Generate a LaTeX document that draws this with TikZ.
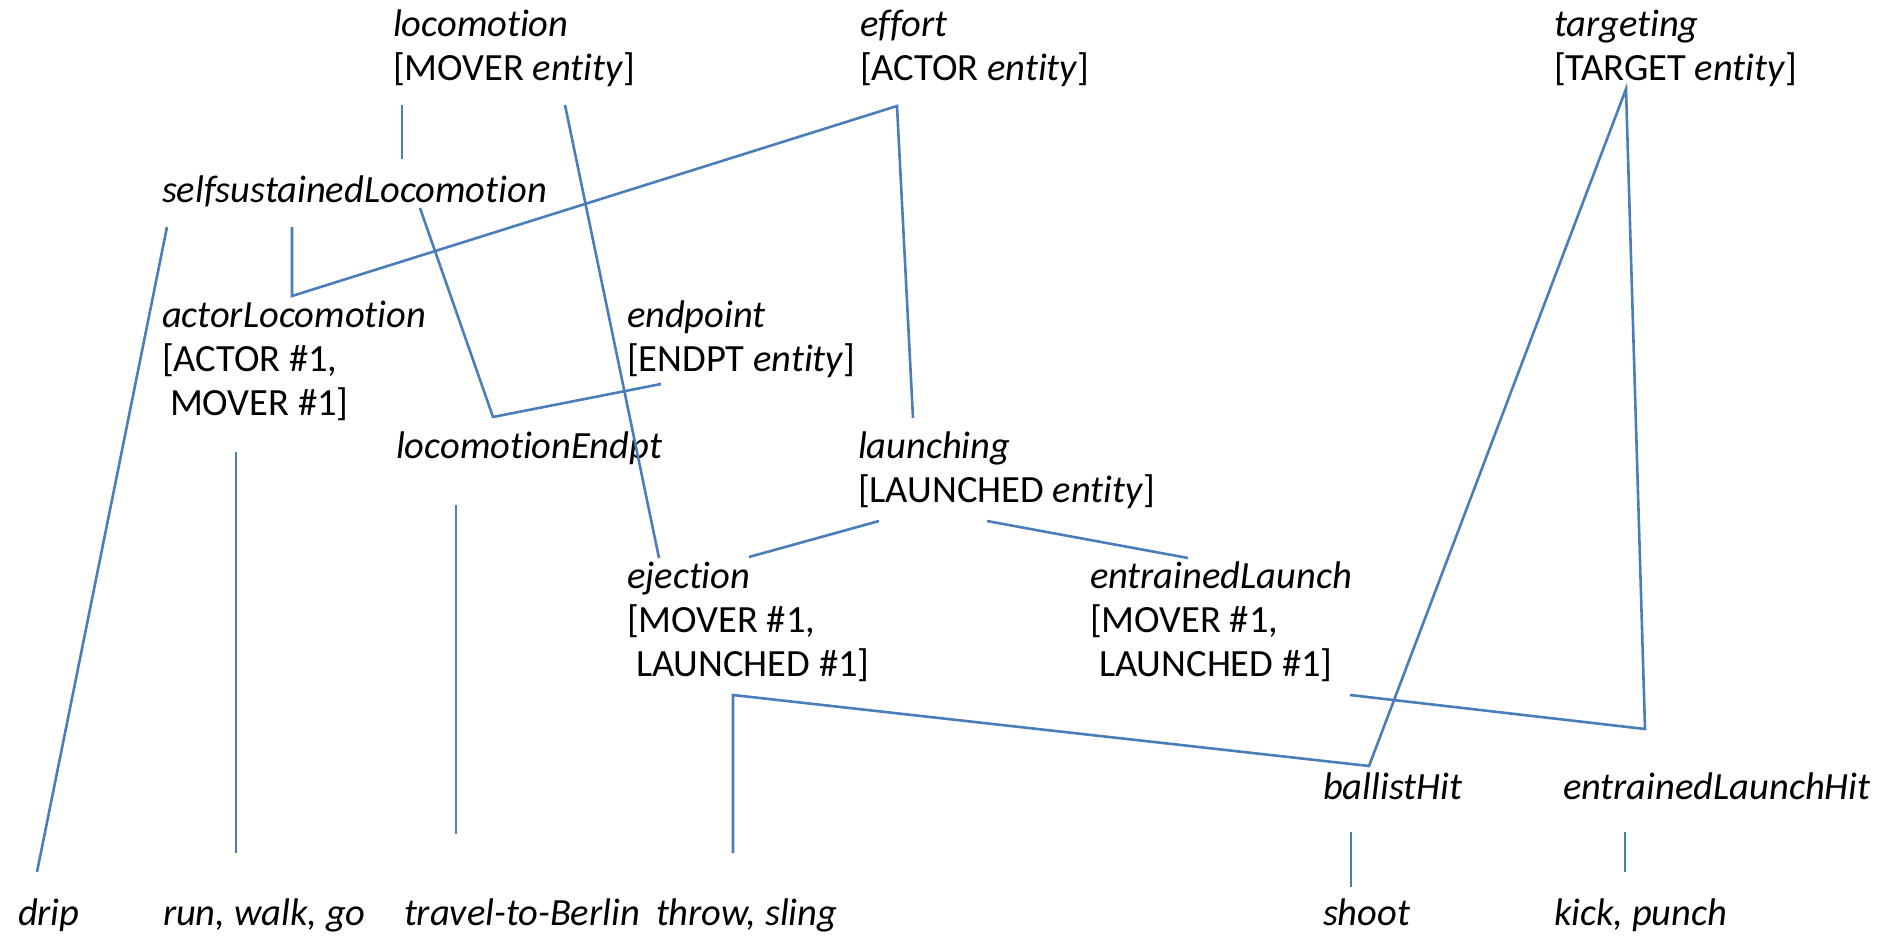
\documentclass[tikz,border=0pt]{standalone}
\usepackage{fontspec}
\setmainfont{Carlito}[Ligatures=NoCommon]
\definecolor{linkblue}{RGB}{74,126,187}
\begin{document}
\begin{tikzpicture}[x=1pt,y=-1pt,
  lbl/.style={inner sep=0pt, outer sep=0pt, anchor=base west, font=\fontsize{38.5}{46}\selectfont},
  il/.style={lbl, font=\fontsize{38.5}{46}\selectfont\itshape},
  conn/.style={draw=linkblue, line width=2.6pt, line join=miter}]
\useasboundingbox (0,0) rectangle (1883,937);
% ---- labels
\node[il]  (loco)    at (393,36)  {locomotion};
\node[lbl] (locoR)   at (393,80)  {[MOVER \textit{entity}]};
\node[il]  (effort)  at (860,36)  {effort};
\node[lbl] (effortR) at (860,80)  {[ACTOR \textit{entity}]};
\node[il]  (targ)    at (1554,36) {targeting};
\node[lbl] (targR)   at (1554,80) {[TARGET \textit{entity}]};
\node[il]  (ssl)     at (162,202) {selfsustainedLocomotion};
\node[il]  (actl)    at (162,327) {actorLocomotion};
\node[lbl] (actlA)   at (162,371) {[ACTOR \#1,};
\node[lbl] (actlB)   at (170,415) {MOVER \#1]};
\node[il]  (endp)    at (627,327) {endpoint};
\node[lbl] (endpR)   at (627,371) {[ENDPT \textit{entity}]};
\node[il]  (locoE)   at (396,458) {locomotionEndpt};
\node[il]  (launch)  at (858,458) {launching};
\node[lbl] (launchR) at (858,502) {[LAUNCHED \textit{entity}]};
\node[il]  (eject)   at (627,588) {ejection};
\node[lbl] (ejectA)  at (627,632) {[MOVER \#1,};
\node[lbl] (ejectB)  at (636,676) {LAUNCHED \#1]};
\node[il]  (entr)    at (1090,588) {entrainedLaunch};
\node[lbl] (entrA)   at (1090,632) {[MOVER \#1,};
\node[lbl] (entrB)   at (1099,676) {LAUNCHED \#1]};
\node[il]  (ballist) at (1323,799) {ballistHit};
\node[il]  (entrHit) at (1563,799) {entrainedLaunchHit};
\node[il]  (drip)    at (18,925)   {drip};
\node[il]  (run)     at (163,925)  {run, walk, go};
\node[il]  (travel)  at (404,925)  {travel-to-Berlin};
\node[il]  (throw)   at (656,925)  {throw, sling};
\node[il]  (shoot)   at (1323,925) {shoot};
\node[il]  (kick)    at (1554,925) {kick, punch};
% ---- connector end points
\coordinate (cLocoL) at (402,105);
\coordinate (cSslTop) at (402,159);
\coordinate (cLocoR) at (565,105);
\coordinate (cEjectTop) at (659,558);
\coordinate (cEffort) at (897,106);
\coordinate (cActlTop) at (292,296);
\coordinate (cSslA) at (292,227);
\coordinate (cLaunchTop) at (913,418);
\coordinate (cSslD) at (167,227);
\coordinate (cDrip) at (37,872);
\coordinate (cSslE) at (420,208);
\coordinate (cLocoETop) at (493,417);
\coordinate (cEndp) at (661,384);
\coordinate (cActlBot) at (236,452);
\coordinate (cRun) at (236,853);
\coordinate (cLocoEBot) at (456,505);
\coordinate (cTravel) at (456,834);
\coordinate (cLaunchL) at (879,521);
\coordinate (cEjectR) at (749,557);
\coordinate (cLaunchR) at (987,521);
\coordinate (cEntrTop) at (1188,558);
\coordinate (cEjectBot) at (733,695);
\coordinate (cThrow) at (733,853);
\coordinate (cBallist) at (1369,766);
\coordinate (cTarg) at (1626,89);
\coordinate (cEntrBot) at (1350,695);
\coordinate (cEntrHit) at (1645,729);
\coordinate (cBallistBot) at (1351,832);
\coordinate (cShoot) at (1351,887);
\coordinate (cEHBot) at (1625,832);
\coordinate (cKick) at (1625,872);
% ---- connectors
\draw[conn] (cLocoL) -- (cSslTop);
\draw[conn] (cLocoR) -- (cEjectTop);
\draw[conn] (cSslA) -- (cActlTop) -- (cEffort) -- (cLaunchTop);
\draw[conn] (cSslD) -- (cDrip);
\draw[conn] (cSslE) -- (cLocoETop) -- (cEndp);
\draw[conn] (cActlBot) -- (cRun);
\draw[conn] (cLocoEBot) -- (cTravel);
\draw[conn] (cLaunchL) -- (cEjectR);
\draw[conn] (cLaunchR) -- (cEntrTop);
\draw[conn] (cThrow) -- (cEjectBot) -- (cBallist) -- (cTarg) -- (cEntrHit) -- (cEntrBot);
\draw[conn] (cBallistBot) -- (cShoot);
\draw[conn] (cEHBot) -- (cKick);
\end{tikzpicture}
\end{document}
